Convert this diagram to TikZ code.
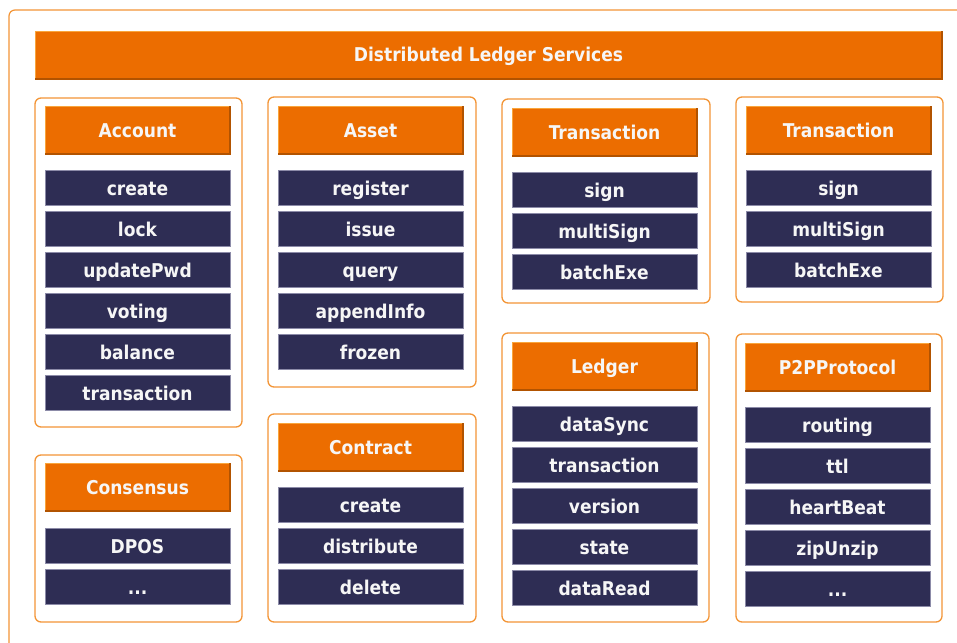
\documentclass[tikz,border=0pt]{standalone}
\usepackage{fontspec}
\setmainfont{DejaVu Sans Condensed}
\definecolor{org}{HTML}{EC6D00}
\definecolor{orgdark}{HTML}{B25300}
\definecolor{orglight}{HTML}{F9A53C}
\definecolor{frame}{HTML}{F39536}
\definecolor{navy}{HTML}{2E2D54}
\definecolor{navyedge}{HTML}{8C8BA8}
\definecolor{txt}{HTML}{F6F6F6}
\tikzset{
  base/.style={anchor=north west, inner sep=0pt, outer sep=0pt, text=txt,
    font=\fontsize{19}{22}\selectfont\bfseries, text depth=5pt},
  hdr/.style={base, fill=org, minimum width=185pt, minimum height=48pt, text height=19pt},
  item/.style={base, fill=navy, draw=navyedge, line width=0.6pt, minimum width=185pt, minimum height=35pt, text height=20pt},
  grp/.style={anchor=north west, inner sep=0pt, outer sep=0pt, draw=frame, line width=1.3pt, rounded corners=6pt},
  hedge/.style={draw=orgdark, line width=1.2pt},
  hlight/.style={draw=orglight, line width=0.8pt},
}
\newcommand{\hdrbox}[5]{%
  \node[hdr, minimum width=#4pt] (#1) at (#2,#3) {#5};
  \draw[hlight] (#1.south west) -- (#1.north west) -- (#1.north east);
  \draw[hedge] (#1.south west) -- (#1.south east) -- (#1.north east);
}
\newcommand{\grpbox}[5]{%
  \node[grp, minimum width=#4pt, minimum height=#5pt] (#1) at (#2,#3) {};
}
\begin{document}
\begin{tikzpicture}[x=1pt,y=-1pt]
\clip (0,0) rectangle (957,642);
\fill[white] (0,0) rectangle (957,642);
% outer frame (extends beyond right and bottom)
\node[grp, line width=1.2pt, minimum width=1000pt, minimum height=700pt] (outer) at (9,10) {};
% title
\hdrbox{title}{35}{31}{907}{Distributed Ledger Services}
% groups
\grpbox{gA}{35}{98}{207}{329}
\grpbox{gAs}{268}{97}{208}{290}
\grpbox{gTa}{502}{99}{208}{204}
\grpbox{gTb}{736}{97}{207}{205}
\grpbox{gC}{35}{455}{207}{167}
\grpbox{gCt}{268}{414}{208}{208}
\grpbox{gL}{502}{333}{207}{289}
\grpbox{gP}{736}{334}{206}{288}
% headers
\hdrbox{hA}{45}{106}{185}{Account}
\hdrbox{hAs}{278}{106}{185}{Asset}
\hdrbox{hTa}{512}{108}{185}{Transaction}
\hdrbox{hTb}{746}{106}{185}{Transaction}
\hdrbox{hC}{45}{463}{185}{Consensus}
\hdrbox{hCt}{278}{423}{185}{Contract}
\hdrbox{hL}{512}{342}{185}{Ledger}
\hdrbox{hP}{745}{343}{185}{P2PProtocol}
% items
\foreach \t [count=\i] in {create,lock,updatePwd,voting,balance,transaction}
  \node[item] (iA\i) at (45,{170+41*(\i-1)}) {\t};
\foreach \t [count=\i] in {register,issue,query,appendInfo,frozen}
  \node[item] (iAs\i) at (278,{170+41*(\i-1)}) {\t};
\foreach \t [count=\i] in {sign,multiSign,batchExe}
  \node[item] (iTa\i) at (512,{172+41*(\i-1)}) {\t};
\foreach \t [count=\i] in {sign,multiSign,batchExe}
  \node[item] (iTb\i) at (746,{170+41*(\i-1)}) {\t};
\node[item] (iC1) at (45,528) {DPOS};
\node[item] (iC2) at (45,569) {...};
\foreach \t [count=\i] in {create,distribute,delete}
  \node[item] (iCt\i) at (278,{487+41*(\i-1)}) {\t};
\foreach \t [count=\i] in {dataSync,transaction,version,state,dataRead}
  \node[item] (iL\i) at (512,{406+41*(\i-1)}) {\t};
\foreach \t [count=\i] in {routing,ttl,heartBeat,zipUnzip}
  \node[item] (iP\i) at (745,{407+41*(\i-1)}) {\t};
\node[item] (iP5) at (745,571) {...};
\end{tikzpicture}
\end{document}
